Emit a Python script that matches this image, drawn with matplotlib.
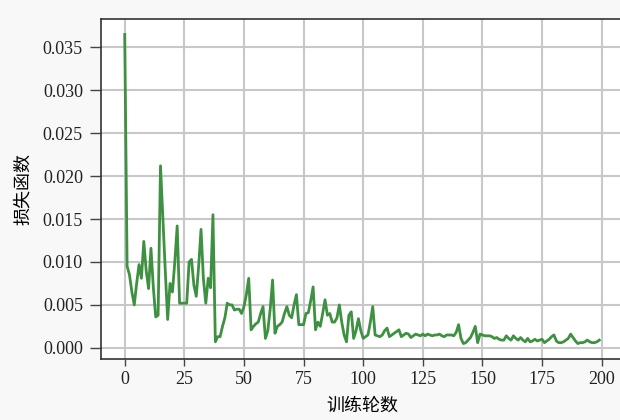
import matplotlib
matplotlib.use("Agg")
import matplotlib.pyplot as plt
import numpy as np

epochs = list(range(200))
loss = [
    0.0365, 0.0095, 0.0085, 0.0065, 0.0050, 0.0075, 0.0097, 0.0081, 0.0124, 0.0090,
    0.0069, 0.0116, 0.0070, 0.0036, 0.0038, 0.0212, 0.0150, 0.0090, 0.0033, 0.0075,
    0.0065, 0.0100, 0.0142, 0.0052, 0.0052, 0.0052, 0.0052, 0.0100, 0.0103, 0.0073,
    0.0060, 0.0095, 0.0138, 0.0080, 0.0052, 0.0081, 0.0070, 0.0155, 0.0007, 0.0013,
    0.0013, 0.0025, 0.0035, 0.0052, 0.0050, 0.0050, 0.0044, 0.0045, 0.0045, 0.0040,
    0.0048, 0.0062, 0.0081, 0.0021, 0.0025, 0.0028, 0.0030, 0.0040, 0.0048, 0.0011,
    0.0020, 0.0045, 0.0079, 0.0017, 0.0025, 0.0027, 0.0030, 0.0040, 0.0048, 0.0038,
    0.0035, 0.0050, 0.0062, 0.0027, 0.0027, 0.0027, 0.0040, 0.0041, 0.0055, 0.0071,
    0.0021, 0.0030, 0.0025, 0.0040, 0.0056, 0.0038, 0.0040, 0.0030, 0.0030, 0.0035,
    0.0050, 0.0030, 0.0015, 0.0007, 0.0038, 0.0042, 0.0011, 0.0020, 0.0034, 0.0020,
    0.0011, 0.0013, 0.0015, 0.0030, 0.0048, 0.0015, 0.0014, 0.0013, 0.0015, 0.0020,
    0.0023, 0.0013, 0.0015, 0.0017, 0.0019, 0.0021, 0.0013, 0.0015, 0.0017, 0.0016,
    0.0012, 0.0014, 0.0016, 0.0015, 0.0014, 0.0016, 0.0014, 0.0016, 0.0015, 0.0014,
    0.0015, 0.0015, 0.0016, 0.0014, 0.0013, 0.0015, 0.0015, 0.0015, 0.0014, 0.0018,
    0.0027, 0.0011, 0.0005, 0.0006, 0.0009, 0.0012, 0.0018, 0.0025, 0.0006, 0.0016,
    0.0015, 0.0014, 0.0014, 0.0014, 0.0013, 0.0011, 0.0012, 0.0010, 0.0009, 0.0009,
    0.0014, 0.0011, 0.0009, 0.0014, 0.0011, 0.0009, 0.0012, 0.0009, 0.0007, 0.0011,
    0.0007, 0.0008, 0.0010, 0.0008, 0.0009, 0.0010, 0.0006, 0.0008, 0.0010, 0.0013,
    0.0015, 0.0008, 0.0006, 0.0006, 0.0007, 0.0009, 0.0011, 0.0016, 0.0012, 0.0008,
    0.0005, 0.0006, 0.0006, 0.0007, 0.0009, 0.0007, 0.0006, 0.0006, 0.0007, 0.0009,
]
xticks = [0, 25, 50, 75, 100, 125, 150, 175, 200]
yticks = [0.000, 0.005, 0.010, 0.015, 0.020, 0.025, 0.030, 0.035]
xlabel = "训练轮数"
ylabel = "损失函数"

fig = plt.figure(figsize=(6.2, 4.2), dpi=100, facecolor="#f8f8f8")
ax = fig.add_axes([101/620, 61/420, 522/620, 340/420])
ax.set_facecolor("white")
ax.plot(epochs, loss, color="#3d9140", lw=2.0)
ax.set_xticks(xticks)
ax.set_yticks(yticks)
ax.set_xticklabels([str(t) for t in xticks], family="Liberation Serif", fontsize=13)
ax.set_yticklabels([f"{t:.3f}" for t in yticks], family="Liberation Serif", fontsize=13)
ax.grid(True, color="#c8c8c8", lw=1.5)
ax.set_axisbelow(True)
for s in ax.spines.values():
    s.set_color("#333333")
    s.set_linewidth(1.2)
ax.tick_params(direction="out", color="#444444", labelcolor="#222222", width=1)
ax.tick_params(axis="y", length=8, pad=5)
ax.tick_params(axis="x", length=5, pad=4)
ax.set_xlabel(xlabel, family=["Noto Sans CJK SC", "DejaVu Sans"], fontsize=13, labelpad=6)
ax.set_ylabel(ylabel, family=["Noto Sans CJK SC", "DejaVu Sans"], fontsize=13, labelpad=8)
fig.savefig("out.png", dpi=100, facecolor=fig.get_facecolor())
